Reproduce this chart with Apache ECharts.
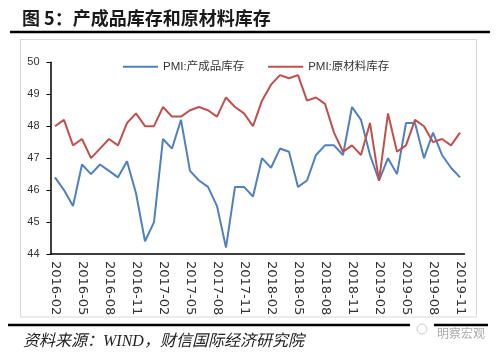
<!DOCTYPE html>
<html>
<head>
<meta charset="utf-8">
<script src="https://cdn.jsdelivr.net/npm/echarts@6/dist/echarts.min.js"></script>
<style>
html,body{margin:0;padding:0;background:#fff;}
#chart{width:500px;height:356px;}
</style>
</head>
<body>
<div id="chart"></div>
<script>
var months = ['2016-02','2016-03','2016-04','2016-05','2016-06','2016-07','2016-08','2016-09','2016-10','2016-11','2016-12',
'2017-01','2017-02','2017-03','2017-04','2017-05','2017-06','2017-07','2017-08','2017-09','2017-10','2017-11','2017-12',
'2018-01','2018-02','2018-03','2018-04','2018-05','2018-06','2018-07','2018-08','2018-09','2018-10','2018-11','2018-12',
'2019-01','2019-02','2019-03','2019-04','2019-05','2019-06','2019-07','2019-08','2019-09','2019-10','2019-11'];
var finishedGoods = [46.4,46.0,45.5,46.8,46.5,46.8,46.6,46.4,46.9,45.9,44.4,45.0,47.6,47.3,48.2,46.6,46.3,46.1,45.5,44.2,46.1,46.1,45.8,47.0,46.7,47.3,47.2,46.1,46.3,47.1,47.4,47.4,47.1,48.6,48.2,47.1,46.3,47.0,46.5,48.1,48.1,47.0,47.8,47.1,46.7,46.4];
var rawMaterials = [48.0,48.2,47.4,47.6,47.0,47.3,47.6,47.4,48.1,48.4,48.0,48.0,48.6,48.3,48.3,48.5,48.6,48.5,48.3,48.9,48.6,48.4,48.0,48.8,49.3,49.6,49.5,49.6,48.8,48.9,48.7,47.8,47.2,47.4,47.1,48.1,46.3,48.4,47.2,47.4,48.2,48.0,47.5,47.6,47.4,47.8];
var seriesNames = ['PMI:产成品库存','PMI:原材料库存'];
var titleText = '图 5：产成品库存和原材料库存';
var sourceText = '资料来源：WIND，财信国际经济研究院';
var watermarkText = '明察宏观';

var chart = echarts.init(document.getElementById('chart'));
var axisColor = '#000';
chart.setOption({
  animation: false,
  backgroundColor: '#fff',
  legend: {
    left: 118, top: 56,
    itemWidth: 35, itemHeight: 2, itemGap: 24,
    icon: 'rect',
    textStyle: {fontSize: 11.5, color: '#333', fontFamily: 'Liberation Sans, Noto Sans CJK SC'},
    data: seriesNames
  },
  grid: {left: 50.5, right: 35.5, top: 62.3, bottom: 102, containLabel: false},
  xAxis: {
    type: 'category', data: months, boundaryGap: true,
    axisLine: {lineStyle: {color: axisColor, width: 1.5}},
    axisTick: {interval: 2, length: 4, lineStyle: {color: axisColor}},
    axisLabel: {interval: 2, rotate: -90, margin: 7, fontSize: 13, color: '#333', fontFamily: 'DejaVu Sans'},
    splitLine: {show: false}
  },
  yAxis: {
    type: 'value', min: 44, max: 50, interval: 1,
    axisLine: {show: true, lineStyle: {color: axisColor, width: 1.5}},
    axisTick: {show: true, length: 4, lineStyle: {color: axisColor}},
    axisLabel: {margin: 11, fontSize: 11, color: '#333', fontFamily: 'Liberation Sans'},
    splitLine: {show: false}
  },
  series: [
    {name: seriesNames[0], type: 'line', data: finishedGoods, showSymbol: false, symbol: 'none',
     lineStyle: {color: '#4F81BD', width: 2}, itemStyle: {color: '#4F81BD'}},
    {name: seriesNames[1], type: 'line', data: rawMaterials, showSymbol: false, symbol: 'none',
     lineStyle: {color: '#C0504D', width: 2}, itemStyle: {color: '#C0504D'}}
  ],
  graphic: [
    {type: 'rect', shape: {x: 20.5, y: 39.5, width: 456, height: 277.5}, style: {fill: 'none', stroke: '#d9d9d9', lineWidth: 1}, z: -1},
    {type: 'text', x: 22, y: 18, style: {text: titleText, fontSize: 18, fontWeight: 'bold', fill: '#1a1a1a', fontFamily: 'Noto Sans CJK SC', verticalAlign: 'middle', align: 'left'}},
    {type: 'line', shape: {x1: 10, y1: 32, x2: 490, y2: 32}, style: {stroke: '#000', lineWidth: 2.5}},
    {type: 'line', shape: {x1: 8, y1: 325, x2: 488, y2: 325}, style: {stroke: '#000', lineWidth: 2.5}},
    {type: 'rect', shape: {x: 410, y: 320, width: 24, height: 14}, style: {fill: '#fff'}},
    {type: 'circle', shape: {cx: 422, cy: 329, r: 5}, style: {fill: 'none', stroke: '#ccc', lineWidth: 1}},
    {type: 'text', x: 23, y: 342, style: {text: sourceText, fontSize: 16, fontStyle: 'italic', fill: '#222', fontFamily: 'Liberation Serif, Noto Sans CJK SC', verticalAlign: 'middle', align: 'left'}},
    {type: 'text', x: 437, y: 333, style: {text: watermarkText, fontSize: 12, fill: '#aaa', fontFamily: 'Noto Sans CJK SC', verticalAlign: 'middle', align: 'left'}}
  ]
});
</script>
</body>
</html>
